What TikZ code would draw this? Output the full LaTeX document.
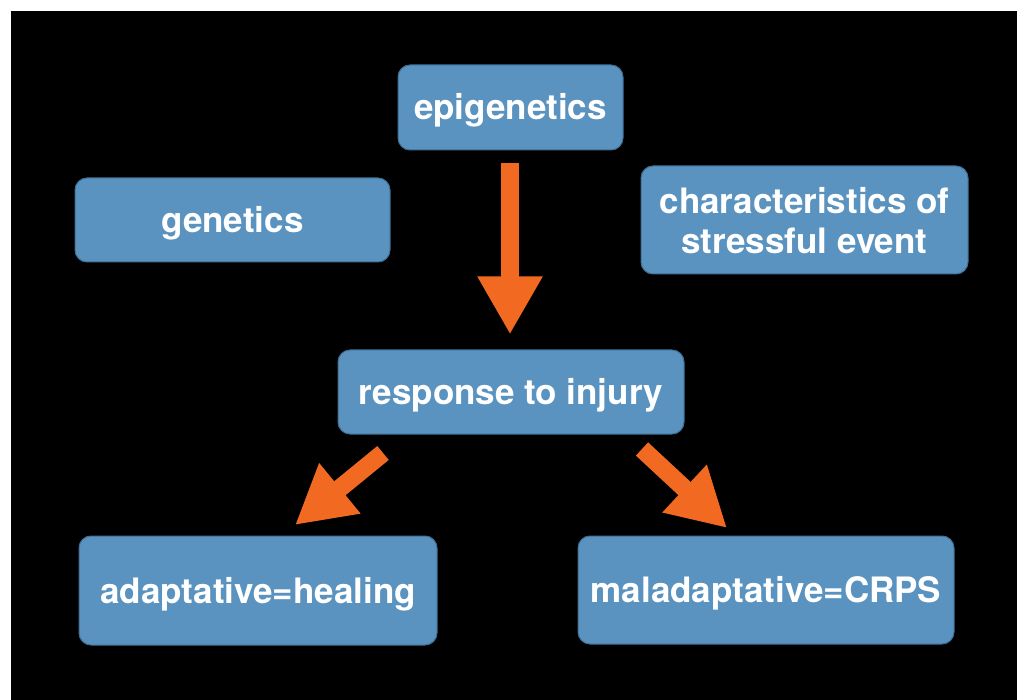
\documentclass[tikz,border=0pt]{standalone}
\usepackage{fontspec}
\setmainfont{TeX Gyre Heros}
\usetikzlibrary{arrows.meta}
\definecolor{boxblue}{HTML}{5A93BF}
\definecolor{boxedge}{HTML}{3F6E93}
\definecolor{arrorange}{HTML}{F26A21}
\tikzset{
  px/.style={x=1pt,y=-1pt},
  box/.style={rectangle, rounded corners=12pt, fill=boxblue, draw=boxedge, line width=1pt,
    text=white, font=\bfseries\fontsize{35}{40}\selectfont, align=center, inner sep=0pt,
    text height=32pt, text depth=7pt},
  bigarrow/.style={draw=arrorange, line width=18pt, -{Triangle[width=61pt,length=58pt]}, arrorange}
}
\begin{document}
\begin{tikzpicture}[px]
\useasboundingbox (0,0) rectangle (1017,700);
\fill[white] (0,0) rectangle (1017,700);
\fill[black] (11,11) rectangle (1017,700);

\node[box, minimum width=225pt, minimum height=85pt] (epi) at (510.5,107.5) {epigenetics};
\node[box, minimum width=315pt, minimum height=84pt] (gen) at (232.5,220) {genetics};
\node[box, minimum width=327pt, minimum height=108pt, text height=74pt, text depth=7pt] (char) at (804.5,220) {characteristics of\\stressful event};
\node[box, minimum width=346pt, minimum height=84pt] (resp) at (511,392) {response to injury};
\node[box, minimum width=358pt, minimum height=109pt] (adapt) at (258,590.5) {adaptative=healing};
\node[box, minimum width=376pt, minimum height=108pt] (mal) at (766,590) {maladaptative=CRPS};

\coordinate (ltail) at (383,453);
\coordinate (ltip) at (295,525);
\coordinate (rtail) at (642,449);
\coordinate (rtip) at (727,528);

\draw[bigarrow, shorten <=13pt, shorten >=15pt] (epi.south -| 510,0) -- (resp.north -| 510,0);
\draw[bigarrow] (ltail) -- (ltip);
\draw[bigarrow] (rtail) -- (rtip);
\end{tikzpicture}
\end{document}
